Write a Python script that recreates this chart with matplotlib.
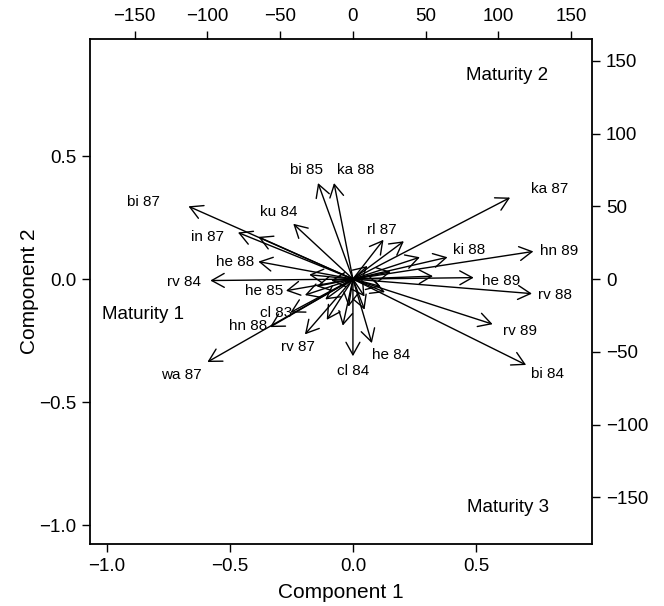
import matplotlib
matplotlib.use('Agg')
import matplotlib.pyplot as plt

plt.rcParams['font.family'] = ['Liberation Sans', 'DejaVu Sans']

# variable arrows, in the scale of the top / right axes
names = ['ka 87', 'hn 89', 'rv 88', 'rv 89', 'bi 84', 'he 89', 'ki 88', 'rl 87',
         'ka 88', 'bi 85', 'ku 84', 'bi 87', 'in 87', 'he 88', 'rv 84', 'he 85',
         'cl 83', 'hn 88', 'wa 87', 'rv 87', 'cl 84', 'he 84']
tip_x = [108, 124, 123, 96, 119, 83, 65, 35, -13, -24, -41, -113, -79, -65, -98, -46,
         -43, -57, -100, -33, 0, 13]
tip_y = [56, 19, -10, -31, -59, 1, 15, 26, 66, 66, 38, 50, 32, 12, -1, -8,
         -23, -33, -57, -38, -53, -44]
label_x = [135, 142, 139, 115, 134, 102, 80, 20, 2, -32, -51, -144, -100, -81, -116, -61,
           -53, -72, -118, -38, 0, 26]
label_y = [62, 19, -11, -36, -65, -1, 20, 34, 75, 75, 46, 53, 29, 12, -2, -8,
           -23, -32, -66, -47, -63, -52]

# short arrows without a label
other_x = [21, -65, -30, -15, -33, -19, -18, -7, -3, 8, 46, 55, 19, 10, 26, 22, -25, 8]
other_y = [27, 29, 3, -1, -11, -14, -28, -32, -19, -12, 15, 2, -5, 9, 5, -9, -5, -21]

# group labels, in component units
groups = ['Maturity 1', 'Maturity 2', 'Maturity 3']
group_x = [-0.854, 0.626, 0.63]
group_y = [-0.146, 0.829, -0.93]

xlim = (-1.069, 0.972)
ylim = (-1.077, 0.976)
k = 169.0

fig = plt.figure(figsize=(6.64, 6.06), dpi=100)
rect = [90 / 664, 62 / 606, 502 / 664, 505 / 606]
ax = fig.add_axes(rect)
ax.set_xlim(xlim)
ax.set_ylim(ylim)
ax.set_xticks([-1.0, -0.5, 0.0, 0.5])
ax.set_yticks([-1.0, -0.5, 0.0, 0.5])
ax.tick_params(direction='out', length=6, width=1, labelsize=13.5, pad=4)
for s in ax.spines.values():
    s.set_linewidth(1.3)
ax.set_xlabel('Component 1', fontsize=15, labelpad=6)
ax.set_ylabel('Component 2', fontsize=15, labelpad=0)

ax2 = fig.add_axes(rect, facecolor='none')
ax2.set_xlim(xlim[0] * k, xlim[1] * k)
ax2.set_ylim(ylim[0] * k, ylim[1] * k)
ax2.xaxis.tick_top()
ax2.yaxis.tick_right()
ax2.set_xticks([-150, -100, -50, 0, 50, 100, 150])
ax2.set_yticks([-150, -100, -50, 0, 50, 100, 150])
ax2.tick_params(direction='out', length=6, width=1, labelsize=13.5, pad=4)
for s in ax2.spines.values():
    s.set_visible(False)

style = '->,head_length=0.9,head_width=0.5'
for x, y in zip(other_x, other_y):
    ax2.annotate('', xy=(x, y), xytext=(0, 0),
                 arrowprops=dict(arrowstyle=style, lw=1.0, color='black',
                                 shrinkA=0, shrinkB=0))
for x, y in zip(tip_x, tip_y):
    ax2.annotate('', xy=(x, y), xytext=(0, 0),
                 arrowprops=dict(arrowstyle=style, lw=1.0, color='black',
                                 shrinkA=0, shrinkB=0))
for n, x, y in zip(names, label_x, label_y):
    ax2.text(x, y, n, fontsize=11, ha='center', va='center')

for g, x, y in zip(groups, group_x, group_y):
    ax.text(x, y, g, fontsize=13.5, ha='center', va='center')

fig.savefig('out.png', dpi=100)
